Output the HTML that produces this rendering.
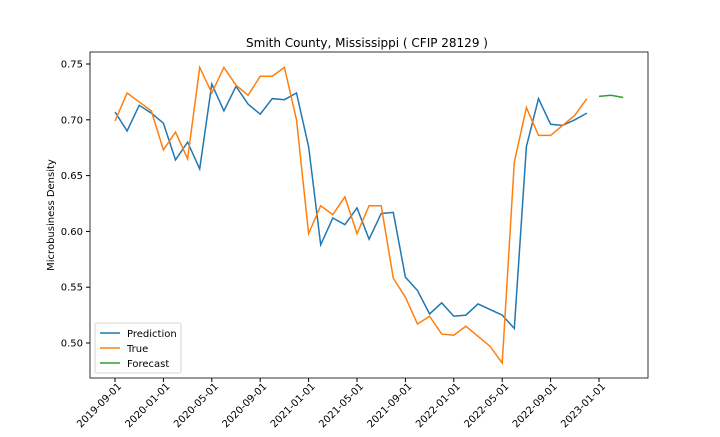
<!DOCTYPE html>
<html><head><meta charset="utf-8"><style>
body{margin:0;background:#fff;font-family:"Liberation Sans","DejaVu Sans",sans-serif;}
svg text{font-family:"DejaVu Sans","Liberation Sans",sans-serif;}
</style></head><body>
<svg id="chart" width="720" height="432" xmlns="http://www.w3.org/2000/svg">
<rect width="720" height="432" fill="#fff"/>
<text x="367" y="47" text-anchor="middle" font-size="12">Smith County, Mississippi ( CFIP 28129 )</text>
<text transform="translate(54,215) rotate(-90)" text-anchor="middle" font-size="10">Microbusiness Density</text>
<g id="grid"></g>
<g id="series"></g>
<rect x="90" y="52" width="558" height="326" fill="none" stroke="#000" stroke-width="0.8"/>
<g>
<rect x="95" y="323" width="86" height="50" rx="2" fill="#fff" stroke="#ccc" stroke-width="0.8"/>
<line x1="100" y1="333" x2="120" y2="333" stroke="#1f77b4" stroke-width="1.5"/>
<text x="127" y="337" font-size="10">Prediction</text>
<line x1="100" y1="348" x2="120" y2="348" stroke="#ff7f0e" stroke-width="1.5"/>
<text x="127" y="352" font-size="10">True</text>
<line x1="100" y1="363" x2="120" y2="363" stroke="#2ca02c" stroke-width="1.5"/>
<text x="127" y="367" font-size="10">Forecast</text>
</g>
</svg>
<script>
const prediction=[.707,.690,.713,.706,.697,.664,.680,.656,.732,.708,.730,.714,.705,.719,.718,.724,.676,.588,.612,.606,.621,.593,.616,.617,.559,.547,.526,.536,.524,.525,.535,.530,.525,.513,.676,.719,.696,.695,.700,.706];
const trueVals=[.699,.724,.716,.708,.673,.689,.665,.747,.724,.747,.731,.722,.739,.739,.747,.700,.598,.623,.615,.631,.598,.623,.623,.558,.541,.517,.524,.508,.507,.515,.506,.497,.482,.662,.711,.686,.686,.695,.704,.719];
const forecast=[.721,.722,.720];
const forecastStart=40;
const yTicks=[0.50,0.55,0.60,0.65,0.70,0.75];
const xTickLabels=["2019-09-01","2020-01-01","2020-05-01","2020-09-01","2021-01-01","2021-05-01","2021-09-01","2022-01-01","2022-05-01","2022-09-01","2023-01-01"];
const NS="http://www.w3.org/2000/svg";
function xs(i){return 115+i*12.1;}
function ys(v){return 343-(v-0.5)/0.25*279;}
const grid=document.getElementById('grid'),ser=document.getElementById('series');
yTicks.forEach(t=>{
 const l=document.createElementNS(NS,'line');
 l.setAttribute('x1',86);l.setAttribute('x2',90);l.setAttribute('y1',ys(t));l.setAttribute('y2',ys(t));l.setAttribute('stroke','#000');
 
 
 grid.appendChild(l);
 const tx=document.createElementNS(NS,'text');
 tx.setAttribute('x',83);tx.setAttribute('y',ys(t)+3.5);tx.setAttribute('text-anchor','end');tx.setAttribute('font-size','10');
 tx.textContent=t.toFixed(2);
 
 
 grid.appendChild(tx);
});
xTickLabels.forEach((s,k)=>{
 const x=xs(k*4);
 const l=document.createElementNS(NS,'line');
 l.setAttribute('x1',x);l.setAttribute('x2',x);l.setAttribute('y1',378);l.setAttribute('y2',382);l.setAttribute('stroke','#000');
 
 
 grid.appendChild(l);
 const tx=document.createElementNS(NS,'text');
 tx.setAttribute('transform','translate('+(x+7)+',387) rotate(-45)');tx.setAttribute('text-anchor','end');tx.setAttribute('font-size','10');
 tx.textContent=s;
 
 
 grid.appendChild(tx);
});
function line(arr,off,color,name){
 const p=document.createElementNS(NS,'polyline');
 p.setAttribute('points',arr.map((v,i)=>xs(i+off)+','+ys(v)).join(' '));
 p.setAttribute('fill','none');p.setAttribute('stroke',color);p.setAttribute('stroke-width','1.5');
 
 
 ser.appendChild(p);
}
line(prediction,0,'#1f77b4','prediction-line');
line(trueVals,0,'#ff7f0e','true-line');
line(forecast,forecastStart,'#2ca02c','forecast-line');
</script>
</body></html>
